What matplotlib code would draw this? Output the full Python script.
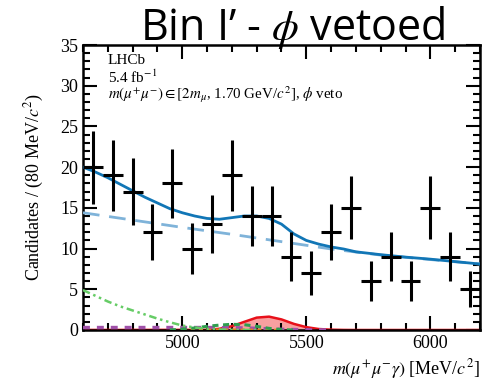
import numpy as np
import matplotlib
matplotlib.use("Agg")
import matplotlib.pyplot as plt
from matplotlib.ticker import MultipleLocator

plt.rcParams["font.family"] = ["Liberation Serif", "DejaVu Serif"]
plt.rcParams["mathtext.fontset"] = "stix"

# data points (bin centres, 80 MeV bins)
bin_centres = [4640, 4720, 4800, 4880, 4960, 5040, 5120, 5200, 5280, 5360,
               5440, 5520, 5600, 5680, 5760, 5840, 5920, 6000, 6080, 6160]
counts = [20, 19, 17, 12, 18, 10, 13, 19, 14, 14,
          9, 7, 12, 15, 6, 9, 6, 15, 9, 5]

# total fit
total_x = [4600, 4650, 4700, 4750, 4800, 4850, 4900, 4950, 5000, 5050, 5100,
           5150, 5200, 5250, 5300, 5350, 5400, 5450, 5500, 5550, 5600, 5650,
           5700, 5800, 5900, 6000, 6100, 6200]
total_y = [20.0, 19.4, 18.7, 17.9, 17.1, 16.3, 15.6, 14.9, 14.4, 14.0, 13.7,
           13.6, 13.8, 14.0, 14.0, 13.7, 13.0, 11.8, 11.0, 10.55, 10.2, 9.95,
           9.6, 9.25, 8.95, 8.7, 8.4, 8.1]

# combinatorial background
comb_x = [4600, 4800, 5000, 5200, 5400, 5600, 5800, 6000, 6200]
comb_y = [14.4, 13.5, 12.6, 11.75, 10.85, 9.95, 9.2, 8.65, 8.1]

# partially reconstructed background
part_x = [4600, 4650, 4700, 4750, 4800, 4850, 4900, 4950, 5000, 5050, 5100,
          5150, 5200, 5300]
part_y = [4.9, 4.2, 3.5, 2.9, 2.4, 1.9, 1.4, 0.95, 0.55, 0.3, 0.15,
          0.07, 0.02, 0.0]

# peaking background (green dashed)
peak_x = [4950, 5000, 5050, 5100, 5150, 5200, 5250, 5300, 5350, 5400, 5450]
peak_y = [0.0, 0.1, 0.25, 0.45, 0.6, 0.7, 0.65, 0.45, 0.2, 0.05, 0.0]

# purple background
purp_x = [4600, 4800, 5000, 5100, 5200, 5300, 5400, 5500, 5600]
purp_y = [0.3, 0.3, 0.3, 0.3, 0.28, 0.2, 0.08, 0.02, 0.0]

# orange background
orng_x = [5000, 5100, 5200, 5300, 5400]
orng_y = [0.02, 0.05, 0.06, 0.05, 0.02]

# signal
sig_x = [4600, 5100, 5150, 5200, 5250, 5300, 5350, 5400, 5450, 5500, 5550,
         5600, 5650, 5700, 6200]
sig_y = [0.0, 0.02, 0.15, 0.47, 1.0, 1.52, 1.64, 1.3, 0.75, 0.35, 0.12,
         0.04, 0.01, 0.0, 0.0]

fig = plt.figure(figsize=(4.87, 3.83), dpi=100)
ax = fig.add_axes([0.1704, 0.1384, 0.8152, 0.7441])

ax.fill_between(sig_x, 0, sig_y, color="#f8a0a0", lw=0, zorder=1)
ax.plot(sig_x, sig_y, color="#e8101a", lw=1.8, zorder=2)
ax.plot(purp_x, purp_y, color="#a050a8", lw=2.5, ls=(0, (2, 2)), zorder=3)
ax.plot(orng_x, orng_y, color="#e08020", lw=1.5, ls=(0, (2, 2)), zorder=3)
ax.plot(peak_x, peak_y, color="#2e9e4f", lw=2.2, ls=(0, (2, 1.5)), zorder=3)
ax.plot(part_x, part_y, color="#66cc66", lw=1.8,
        ls=(0, (3, 1.5, 1, 1.5, 1, 1.5)), zorder=3)
ax.plot(comb_x, comb_y, color="#7fb3d9", lw=2, ls=(0, (6, 3.5)), zorder=4)
ax.plot(total_x, total_y, color="#1176b6", lw=2, zorder=5)

c = np.array(counts, dtype=float)
ax.errorbar(bin_centres, counts, xerr=40, yerr=np.sqrt(c), fmt="none",
            ecolor="black", elinewidth=2.2, capsize=0, zorder=6)

ax.set_xlim(4600, 6200)
ax.set_ylim(0, 35)
ax.xaxis.set_major_locator(MultipleLocator(500))
ax.xaxis.set_minor_locator(MultipleLocator(100))
ax.yaxis.set_major_locator(MultipleLocator(5))
ax.yaxis.set_minor_locator(MultipleLocator(1))
ax.tick_params(which="both", direction="in", top=True, right=True,
               labelsize=13, width=1.5)
ax.tick_params(which="major", length=10)
ax.tick_params(which="minor", length=5)
for s in ax.spines.values():
    s.set_linewidth(1.8)

ax.set_ylabel(r"Candidates / (80 MeV/$c^2$)", fontsize=13, labelpad=10)
ax.set_xlabel(r"$m(\mu^{+}\mu^{-}\gamma)$ [MeV/$c^2$]", fontsize=13,
              loc="right", labelpad=4)

ax.text(0.062, 0.947, "LHCb", transform=ax.transAxes, fontsize=11, va="center")
ax.text(0.062, 0.888, r"5.4 fb$^{-1}$", transform=ax.transAxes, fontsize=11,
        va="center")
ax.text(0.062, 0.825, r"$m(\mu^{+}\mu^{-}) \in [2m_{\mu}$, 1.70 GeV/$c^2$], $\phi$ veto",
        transform=ax.transAxes, fontsize=10.8, va="center")

fig.text(0.6, 0.895, "Bin I\u2019 - $\\phi$ vetoed", fontsize=31, ha="center",
         va="baseline", family=["Open Sans", "DejaVu Sans"])

fig.savefig("out.png", dpi=100)
